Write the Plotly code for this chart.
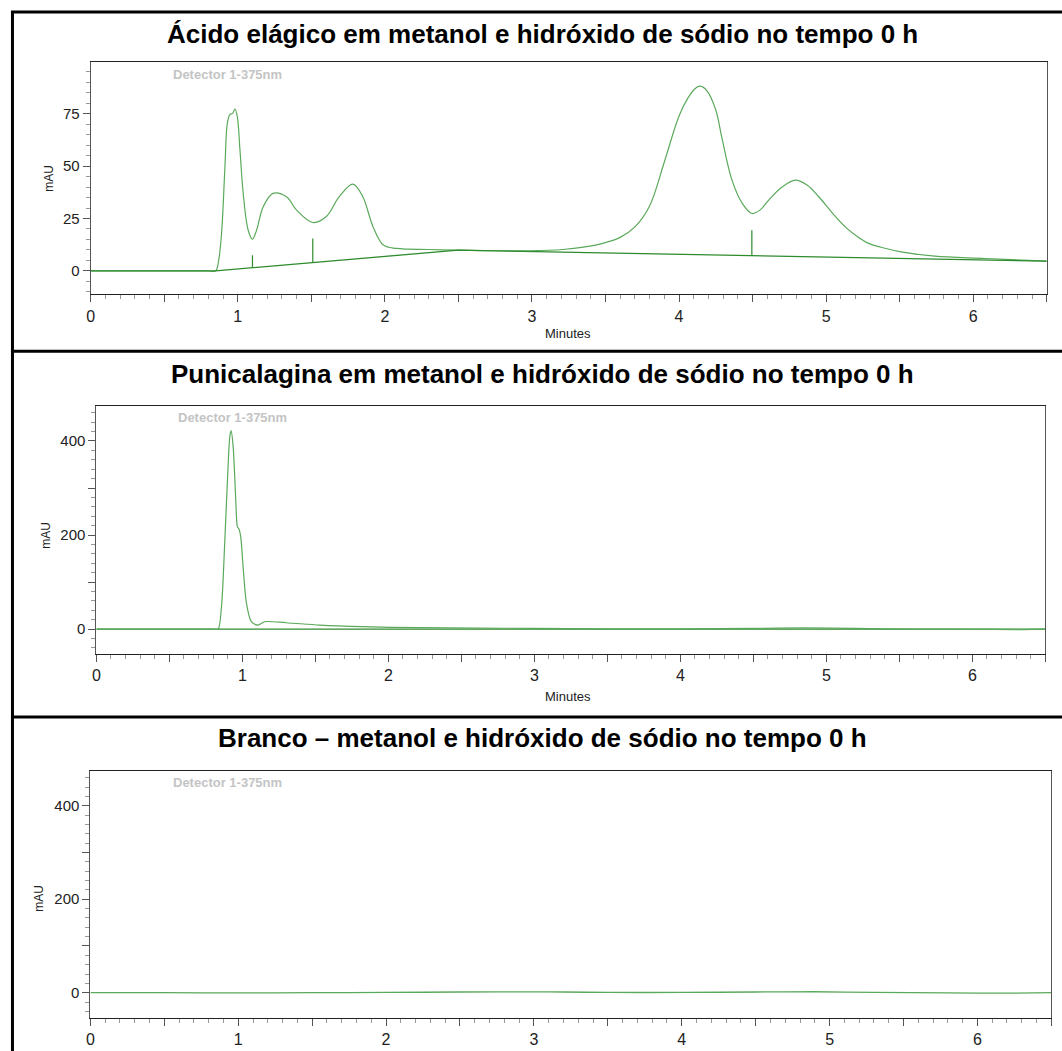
import numpy as np
import plotly.graph_objects as go

W, H = 1062, 1051

# ---------------- data ----------------
# Panel 1: ellagic acid chromatogram (minutes, mAU)
t_acid = [0.0, 0.4, 0.7, 0.8, 0.85, 0.87, 0.89, 0.913, 0.929, 0.947, 0.965, 0.981, 0.997,
          1.015, 1.037, 1.071, 1.10, 1.128, 1.173, 1.24, 1.331, 1.40, 1.51, 1.60, 1.69,
          1.783, 1.85, 1.92, 1.99, 2.08, 2.3, 2.51, 2.75, 2.98, 3.21, 3.35, 3.5, 3.6, 3.7,
          3.8, 3.9, 4.0, 4.06, 4.11, 4.144, 4.19, 4.25, 4.29, 4.36, 4.43, 4.495, 4.55, 4.61,
          4.7, 4.79, 4.87, 4.95, 5.05, 5.13, 5.21, 5.29, 5.4, 5.51, 5.74, 6.08, 6.5]
a_acid = [0.0, 0.0, 0.0, 0.0, 0.0, 5.0, 18.0, 50.0, 70.4, 74.7, 75.2, 77.3, 73.6,
          57.7, 37.0, 19.4, 15.1, 19.4, 30.6, 37.0, 35.4, 29.0, 23.1, 25.8, 35.4,
          41.4, 35.4, 21.0, 12.3, 10.7, 10.2, 9.9, 9.6, 9.6, 10.2, 11.3, 13.5, 16.0, 21.0,
          31.0, 52.0, 74.0, 82.5, 87.1, 88.2, 86.0, 76.8, 64.0, 43.3, 32.2, 27.4, 29.0, 33.8,
          40.0, 43.3, 41.0, 35.4, 27.0, 21.0, 16.5, 13.1, 10.8, 9.1, 7.0, 5.9, 4.6]
# integration baseline
base_acid_t = [0.0, 0.85, 2.5, 6.5]
base_acid_a = [0.0, 0.0, 9.9, 4.6]
# peak separation drop lines
drop_t = [1.10, 1.51, 4.495]
drop_top = [7.5, 15.5, 19.4]

# Panel 2: punicalagin chromatogram
t_pun = [0.0, 0.4, 0.7, 0.8, 0.834, 0.857, 0.88, 0.898, 0.914, 0.923, 0.937, 0.955, 0.966,
         0.978, 0.989, 1.005, 1.028, 1.062, 1.107, 1.153, 1.30, 1.53, 1.82, 2.2, 2.6, 3.0,
         3.5, 4.0, 4.5, 4.85, 5.2, 5.6, 6.0, 6.3, 6.5]
a_pun = [0.0, 0.0, 0.0, 0.0, 0.0, 47.5, 189.0, 317.0, 409.0, 422.0, 388.0, 274.0, 218.0,
         212.0, 196.0, 133.0, 55.0, 15.6, 8.5, 15.6, 13.5, 8.5, 5.0, 3.0, 2.0, 1.5,
         0.5, 0.5, 1.5, 2.5, 1.5, 0.0, -0.5, -1.0, 0.0]
base_pun_t = [0.0, 6.5]
base_pun_a = [0.0, 0.0]

# Panel 3: blank
t_blank = [0.0, 0.5, 1.0, 1.5, 2.0, 2.5, 3.0, 3.2, 3.5, 4.0, 4.5, 4.9, 5.3, 5.8, 6.2, 6.5]
a_blank = [0.0, 0.0, -0.5, 0.0, 0.5, 1.5, 1.8, 1.5, 0.5, 0.5, 1.5, 2.0, 0.5, -0.5, -1.0, 0.0]

titles = [
    "Ácido elágico em metanol e hidróxido de sódio no tempo 0 h",
    "Punicalagina em metanol e hidróxido de sódio no tempo 0 h",
    "Branco – metanol e hidróxido de sódio no tempo 0 h",
]
detector_label = "Detector 1-375nm"
x_ticks = [0, 0.5, 1, 1.5, 2, 2.5, 3, 3.5, 4, 4.5, 5, 5.5, 6, 6.5]
x_ticktext = ["0", "", "1", "", "2", "", "3", "", "4", "", "5", "", "6", ""]
y1_ticks = [0, 25, 50, 75]
y23_ticks = [0, 100, 200, 300, 400]
y23_ticktext = ["0", "", "200", "", "400"]

# ---------------- layout helpers ----------------
def px_x(p):
    return p / W

def px_y(p):
    return 1 - p / H

CURVE = "#5aa95a"
BASE = "#2e8b2e"
FONT = "Liberation Sans, Arial, sans-serif"

fig = go.Figure()

# panel 1 traces
fig.add_trace(go.Scatter(x=t_acid, y=a_acid, mode="lines", xaxis="x", yaxis="y",
                         line=dict(color=CURVE, width=1.2, shape="spline", smoothing=1.0)))
fig.add_trace(go.Scatter(x=base_acid_t, y=base_acid_a, mode="lines", xaxis="x", yaxis="y",
                         line=dict(color=BASE, width=1.3)))
drop_x, drop_y = [], []
for t, top in zip(drop_t, drop_top):
    b = float(np.interp(t, base_acid_t, base_acid_a))
    drop_x += [t, t, None]
    drop_y += [b, top, None]
fig.add_trace(go.Scatter(x=drop_x, y=drop_y, mode="lines", xaxis="x", yaxis="y",
                         line=dict(color=BASE, width=1.2)))

# panel 2 traces
fig.add_trace(go.Scatter(x=base_pun_t, y=base_pun_a, mode="lines", xaxis="x2", yaxis="y2",
                         line=dict(color=BASE, width=1.1)))
fig.add_trace(go.Scatter(x=t_pun, y=a_pun, mode="lines", xaxis="x2", yaxis="y2",
                         line=dict(color=CURVE, width=1.2, shape="spline", smoothing=0.8)))

# panel 3 trace
fig.add_trace(go.Scatter(x=t_blank, y=a_blank, mode="lines", xaxis="x3", yaxis="y3",
                         line=dict(color=CURVE, width=1.3, shape="spline", smoothing=0.6)))

xtickfont = dict(family=FONT, size=16, color="#222222")
ytickfont = dict(family=FONT, size=15, color="#222222")

def xaxis(domain, anchor):
    return dict(domain=domain, anchor=anchor, range=[0, 6.5], showgrid=False, zeroline=False,
                showline=True, linecolor="#222222", linewidth=1, mirror=True,
                ticks="outside", tickvals=x_ticks, ticktext=x_ticktext, ticklen=7,
                tickcolor="#555555", tickwidth=1, tickfont=xtickfont,
                minor=dict(dtick=0.1, tick0=0, ticklen=4, tickcolor="#999999", ticks="outside"))

def yaxis(domain, anchor, rng, tickvals, ticktext, minor_dtick):
    return dict(domain=domain, anchor=anchor, range=rng, showgrid=False, zeroline=False,
                showline=True, linecolor="#555555", linewidth=1, mirror=True,
                ticks="outside", tickvals=tickvals, ticktext=ticktext, ticklen=7,
                tickcolor="#555555", tickwidth=1, tickfont=ytickfont,
                minor=dict(dtick=minor_dtick, tick0=0, ticklen=4, tickcolor="#999999",
                           ticks="outside"))

# plot-area rectangles (pixels): left, top, right, bottom
areas = [(87, 62.3, 1046.7, 294.3), (92.7, 405.7, 1045.3, 654), (86.7, 770.7, 1051.3, 1017.7)]
dom_x = [[px_x(a[0]), px_x(a[2])] for a in areas]
dom_y = [[px_y(a[3]), px_y(a[1])] for a in areas]

layout = dict(
    width=W, height=H, margin=dict(l=0, r=0, t=0, b=0),
    paper_bgcolor="white", plot_bgcolor="white", showlegend=False,
    font=dict(family=FONT, color="#222222"),
    xaxis=xaxis(dom_x[0], "y"),
    yaxis=yaxis(dom_y[0], "x", [-11.2, 99.6], y1_ticks, [str(v) for v in y1_ticks], 5),
    xaxis2=xaxis(dom_x[1], "y2"),
    yaxis2=yaxis(dom_y[1], "x2", [-53, 475], y23_ticks, y23_ticktext, 20),
    xaxis3=xaxis(dom_x[2], "y3"),
    yaxis3=yaxis(dom_y[2], "x3", [-53.5, 475], y23_ticks, y23_ticktext, 20),
)
fig.update_layout(**layout)

annotations = []
title_y = [34, 374, 738]
detector_pos = [(224, 74), (229, 417.5), (224, 782.5)]
mau_pos = [(45, 178), (42, 535), (35, 898)]
minutes_y = [333, 696]
for i in range(3):
    annotations.append(dict(text="<b>%s</b>" % titles[i], x=px_x(541), y=px_y(title_y[i]),
                            xref="paper", yref="paper", showarrow=False, xanchor="center",
                            yanchor="middle", font=dict(family=FONT, size=26, color="black")))
    annotations.append(dict(text="<b>%s</b>" % detector_label, x=px_x(detector_pos[i][0]),
                            y=px_y(detector_pos[i][1]), xref="paper", yref="paper",
                            showarrow=False, xanchor="center", yanchor="middle",
                            font=dict(family=FONT, size=13, color="#c4c4c4")))
    annotations.append(dict(text="mAU", x=px_x(mau_pos[i][0]), y=px_y(mau_pos[i][1]),
                            xref="paper", yref="paper", showarrow=False, textangle=-90,
                            xanchor="center", yanchor="middle",
                            font=dict(family=FONT, size=12, color="#222222")))
for yy in minutes_y:
    annotations.append(dict(text="Minutes", x=px_x(566), y=px_y(yy), xref="paper", yref="paper",
                            showarrow=False, xanchor="center", yanchor="middle",
                            font=dict(family=FONT, size=13, color="#222222")))
fig.update_layout(annotations=annotations)

# outer frame and panel dividers
frame = dict(color="black", width=3)
shapes = [
    dict(type="line", xref="paper", yref="paper", x0=px_x(8.5), x1=px_x(8.5),
         y0=0, y1=px_y(11), line=frame),
    dict(type="line", xref="paper", yref="paper", x0=px_x(7), x1=1, y0=px_y(12), y1=px_y(12),
         line=frame),
    dict(type="line", xref="paper", yref="paper", x0=px_x(7), x1=1, y0=px_y(351.3),
         y1=px_y(351.3), line=frame),
    dict(type="line", xref="paper", yref="paper", x0=px_x(7), x1=1, y0=px_y(717),
         y1=px_y(717), line=frame),
]
fig.update_layout(shapes=shapes)

fig.write_html("out.html")
